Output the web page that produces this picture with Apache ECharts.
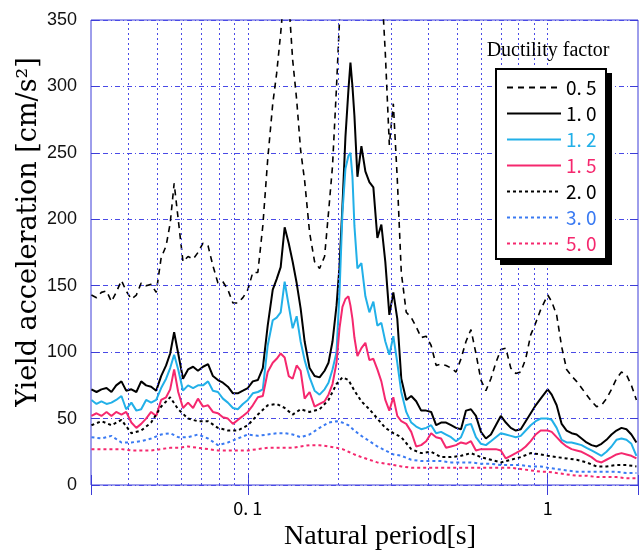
<!DOCTYPE html>
<html>
<head>
<meta charset="utf-8">
<script src="https://cdn.jsdelivr.net/npm/echarts@6/dist/echarts.min.js"></script>
<style>html,body{margin:0;padding:0;background:#fff}#c{width:642px;height:550px}</style>
</head>
<body>
<div id="c"></div>
<script>
// Natural periods [s] for detailed curves (mu = 0.5, 1.0, 1.2, 1.5)
var periods = [0.0301,0.0313,0.0325,0.0338,0.0351,0.0364,0.0379,0.0393,0.0409,0.0425,0.0441,0.0458,0.0476,0.0495,0.0514,0.0534,
0.0551,0.0568,0.0586,
0.0608,0.0632,0.0657,0.0682,0.0709,0.0737,0.0765,0.0795,0.0826,0.0858,0.0892,0.0926,0.0963,
0.100,0.1039,0.1080,0.1122,0.1165,0.1211,
0.1248,0.1287,0.1327,0.1369,0.1411,0.1455,0.1500,0.1547,
0.1607,0.1670,0.1735,0.1803,
0.1858,0.1916,0.1976,
0.2022,0.2068,0.2116,0.2166,
0.2199,0.2233,0.2267,0.2320,
0.2392,0.2466,0.2543,0.2622,0.2704,0.2788,0.2874,0.2964,0.3056,0.3151,
0.3249,
0.3375,0.3507,0.3643,0.3785,0.3933,0.4086,0.4245,0.4410,0.4582,0.4761,0.4946,0.5139,0.5339,0.5547,0.5763,0.5988,0.6221,0.6464,0.6715,0.6977,0.7249,0.7531,0.7825,0.8130,0.8446,0.8776,0.9117,0.9473,
1.000,
1.031,1.071,1.113,1.156,1.201,1.248,1.297,1.347,1.400,1.455,1.511,1.570,1.632,1.695,1.762,1.830,1.901,1.976];

var mu05 = [143,141,145,146,138,145,154,146,140,143,152,150,151,145,171,180,
197,227,200,
168,172,170,175,182,180,165,152,153,147,137,137,141,
147,160,160,195,245,287,
310,340,375,365,320,290,252,229,
190,168,163,172,
205,240,300,
350,400,450,500,
520,540,560,580,
590,570,530,480,430,380,325,256,287,230,
160,
130,126,119,111,112,105,90,91,90,88,85,95,108,117,99,79,71,80,92,102,103,88,84,85,95,113,122,132,
143,
138,128,104,87,82,78,73,68,63,59,60,65,72,80,85,83,75,64];

var mu10 = [72,70,72,73,70,75,78,71,72,70,78,75,74,71,82,90,
99,115,99,
80,87,89,86,89,91,82,79,77,74,69,69,71,
73,78,79,88,120,147,
155,164,194,182,168,152,133,108,
88,82,81,86,
92,108,135,
165,210,262,298,
318,300,278,232,
255,236,228,224,186,196,168,128,145,125,
80,
64,67,63,56,56,55,45,47,47,45,43,42,56,57,52,40,35,38,45,52,47,43,41,42,48,54,60,65,
72,
68,60,46,41,39,38,35,32,30,29,31,34,38,41,43,42,38,32];

var mu12 = [64,61,63,61,62,64,67,57,62,56,57,64,62,64,73,80,
88,98,87,
71,75,73,75,75,78,71,70,65,62,58,57,61,
64,69,70,72,105,124,
126,130,153,135,118,127,108,94,
81,71,68,72,
77,87,100,
145,205,238,248,
250,232,195,163,
167,142,130,138,120,122,108,98,112,92,
70,
55,47,44,42,43,45,39,40,38,36,33,36,45,46,36,31,30,33,36,39,38,37,36,37,41,45,48,50,
50,
49,43,34,32,32,31,30,28,26,24,22,25,29,34,35,34,31,22];

var mu15 = [52,54,52,55,52,55,53,55,47,43,46,50,55,52,64,66,
72,87,70,
58,62,58,65,59,60,55,54,51,50,46,49,52,
55,60,66,67,85,92,
95,99,96,82,80,90,86,65,
70,59,61,63,
68,76,92,
118,134,140,142,
135,125,111,97,
103,107,94,95,87,78,64,56,66,52,
48,
46,40,29,30,33,39,36,35,28,29,30,32,31,33,26,27,27,27,27,26,20,22,24,26,29,33,38,41,
41,
40,36,32,29,27,26,25,23,21,18,17,19,21,23,24,23,22,20];

// Natural periods [s] for smooth curves (mu = 2.0, 3.0, 5.0)
var periodsSmooth = [0.0301,0.0325,0.0351,0.0379,0.0409,0.0441,0.0476,0.0514,0.0551,0.0586,0.0632,0.0682,0.0737,0.0795,0.0858,0.0926,
0.100,0.1080,0.1165,0.1248,0.1327,0.1411,0.1500,0.1607,0.1735,0.1858,0.1976,0.2068,0.2166,0.2267,0.2392,0.2543,0.2704,0.2874,0.3056,
0.3249,0.3507,0.3785,0.4086,0.4410,0.4761,0.5139,0.5547,0.5988,0.6464,0.6977,0.7531,0.8130,0.8776,0.9473,
1.000,1.071,1.156,1.248,1.347,1.455,1.570,1.695,1.830,1.976];

var mu20 = [45,48,45,49,39,41,47,59,66,57,50,48,48,43,41,41,
45,53,60,61,58,53,57,55,57,64,76,81,79,71,63,57,50,43,39,
36,27,24,25,21,21,22,24,21,19,17,19,21,24,23,
22,21,20,19,17,14,14,15,15,14];

var mu30 = [36,35,37,32,32,33,35,38,39,36,36,38,35,30,32,35,
38,37,38,39,39,38,36,38,43,47,48,47,45,41,37,33,29,26,23,
22,19,18,18,18,17,17,17,16,16,15,15,15,14,14,
13,12,11,10,10,10,10,10,9,9];

var mu50 = [27,27,27,27,26,26,26,27,28,28,29,28,27,26,26,26,
26,27,28,28,28,28,29,30,30,29,28,27,25,23,21,19,17,16,15,
14,13,13,13,13,13,13,13,13,13,13,13,12,11,10,
10,9,8,7,7,6,6,6,5,5];

var legendNames = ['0. 5','1. 0','1. 2','1. 5','2. 0','3. 0','5. 0'];
var gridPeriods = [0.04,0.05,0.06,0.07,0.08,0.09,0.1,0.2,0.3,0.4,0.5,0.6,0.7,0.8,0.9,1];

var CYAN = '#22b0e8', PINK = '#f5286e', BLUE = '#3a7af2', FRAME = '#3c3cd8', GRID = '#4a4ae6';

function pairs(ts, vs){ return ts.map(function(t,i){ return [t, vs[i]]; }); }

var styles = [
  {data: pairs(periods, mu05), color:'#000', width:1.6, type:[6,5]},
  {data: pairs(periods, mu10), color:'#000', width:2, type:'solid'},
  {data: pairs(periods, mu12), color:CYAN, width:2, type:'solid'},
  {data: pairs(periods, mu15), color:PINK, width:2, type:'solid'},
  {data: pairs(periodsSmooth, mu20), color:'#000', width:2, type:[3,3]},
  {data: pairs(periodsSmooth, mu30), color:BLUE, width:2, type:[3,3]},
  {data: pairs(periodsSmooth, mu50), color:PINK, width:2, type:[3,3]}
];

var series = [{
  type:'line', data:[], silent:true, z:1, symbol:'none',
  markLine:{silent:true, symbol:'none', label:{show:false},
    lineStyle:{color:GRID, type:[2,3], width:1},
    data: gridPeriods.map(function(p){ return {xAxis:p}; })}
}];
styles.forEach(function(s,i){
  series.push({
    name: legendNames[i], type:'line', data:s.data, showSymbol:false, symbol:'none',
    z:3+i, clip:true, color:s.color,
    lineStyle:{color:s.color, width:s.width, type:s.type}
  });
});

var textColors = ['#000','#000',CYAN,PINK,'#000',BLUE,PINK];

var xCommon = {type:'log', logBase:10, min:0.03, max:2};
var chart = echarts.init(document.getElementById('c'), null, {renderer:'canvas'});
chart.setOption({
  animation:false,
  backgroundColor:'#fff',
  grid:{left:91, right:4, top:20, bottom:65, show:true, borderColor:FRAME, borderWidth:1, backgroundColor:'transparent'},
  xAxis:[
    Object.assign({}, xCommon, {position:'bottom',
      axisLine:{show:false}, splitLine:{show:false},
      axisTick:{show:true, inside:true, length:10, lineStyle:{color:FRAME, width:1}},
      axisLabel:{margin:14, color:'#000', fontFamily:'Noto Sans CJK JP', fontSize:18,
        formatter:function(v){ if (Math.abs(v-0.1)<1e-9) return '0. 1'; if (Math.abs(v-1)<1e-9) return '1'; return ''; }}
    }),
    Object.assign({}, xCommon, {position:'top',
      axisLine:{show:false}, splitLine:{show:false}, axisLabel:{show:false},
      axisTick:{show:true, inside:true, length:10, lineStyle:{color:FRAME, width:1}}
    })
  ],
  yAxis:[
    {type:'value', min:0, max:350, interval:50, position:'left',
      axisLine:{show:false},
      axisTick:{show:true, inside:true, length:8, lineStyle:{color:FRAME}},
      splitLine:{show:true, lineStyle:{color:GRID, type:[5,3,1,3], width:1}},
      axisLabel:{margin:14, color:'#111', fontFamily:'Liberation Sans', fontSize:18}
    },
    {type:'value', min:0, max:350, interval:50, position:'right',
      axisLine:{show:false}, splitLine:{show:false}, axisLabel:{show:false},
      axisTick:{show:true, inside:true, length:8, lineStyle:{color:FRAME}}
    }
  ],
  legend:{
    orient:'vertical', left:495, top:68, padding:[10,10,7,11], z:20,
    itemWidth:54, itemHeight:14, itemGap:7,
    itemStyle:{opacity:0},
    textStyle:{fontFamily:'Noto Sans CJK JP', fontSize:19, color:'#000'},
    data: legendNames.map(function(n,i){ return {name:n, textStyle:{color:textColors[i]}}; })
  },
  graphic:[
    {type:'rect', z:15, silent:true, shape:{x:500, y:73, width:112, height:192}, style:{fill:'#000'}},
    {type:'rect', z:16, silent:true, shape:{x:496, y:69, width:110, height:190}, style:{fill:'#fff', stroke:'#000', lineWidth:2}},
    {type:'text', z:16, x:548, y:51, style:{text:'Ductility factor', fill:'#000', font:'20px "Liberation Serif"', textAlign:'center', textVerticalAlign:'middle'}},
    {type:'text', x:380, y:537, style:{text:'Natural period[s]', fill:'#000', font:'28px "Liberation Serif"', textAlign:'center', textVerticalAlign:'middle'}},
    {type:'text', x:29, y:232, rotation:Math.PI/2, style:{text:'Yield acceleration [cm/s²]', fill:'#000', font:'27px "DejaVu Serif"', textAlign:'center', textVerticalAlign:'middle'}}
  ],
  series: series
});
</script>
</body>
</html>
